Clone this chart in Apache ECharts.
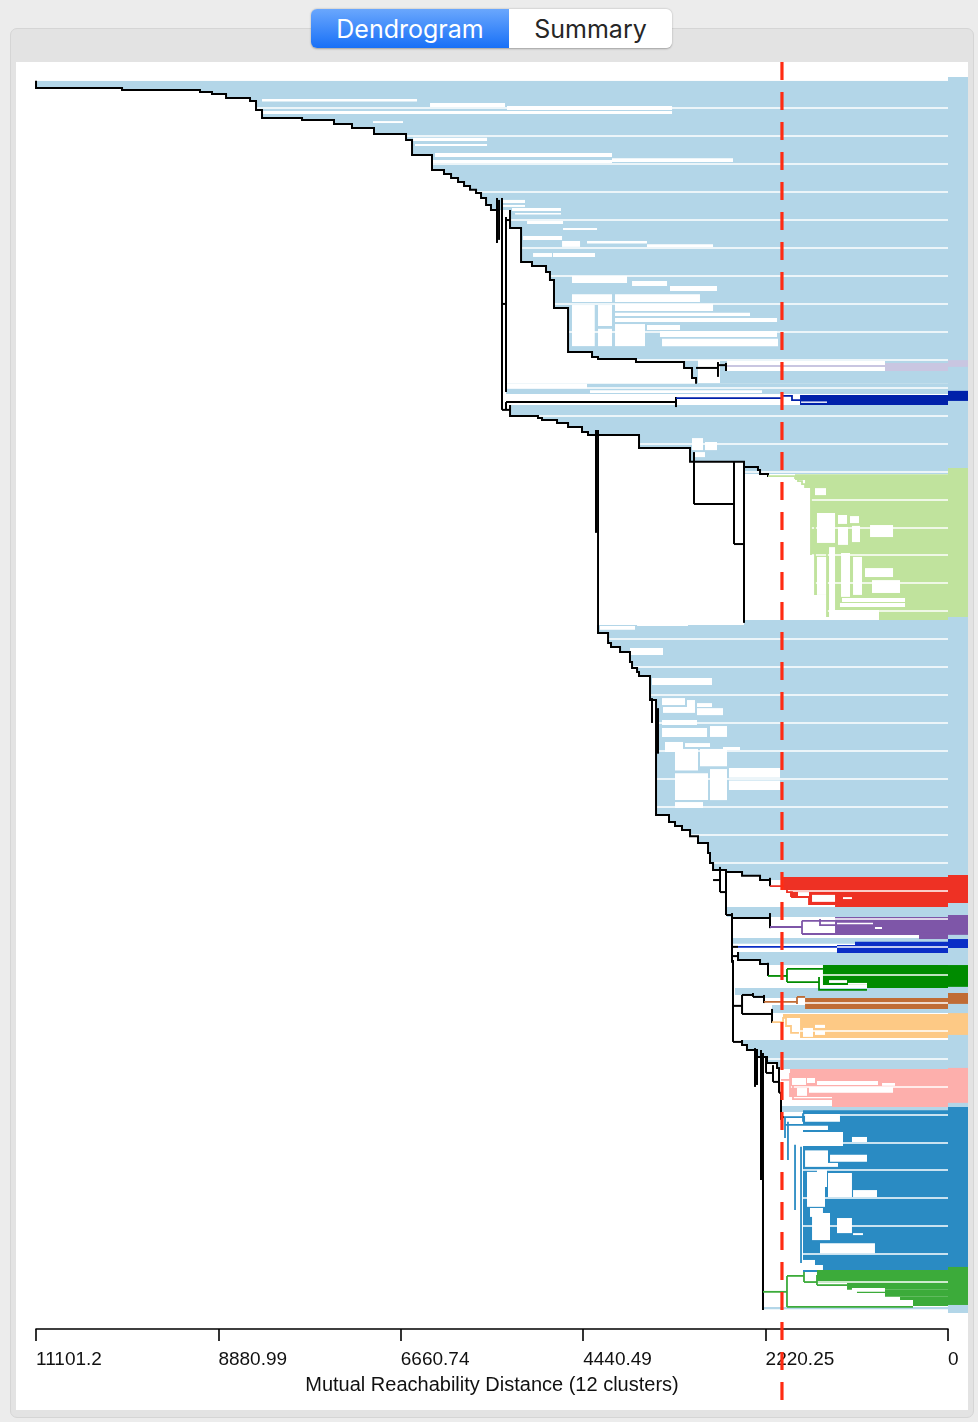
<!DOCTYPE html>
<html><head><meta charset="utf-8">
<script src="https://cdn.jsdelivr.net/npm/echarts@6/dist/echarts.min.js"></script>
<style>
html,body{margin:0;padding:0;background:#ececec;width:978px;height:1422px;overflow:hidden;font-family:"Liberation Sans",Arial,sans-serif;}
#panel{position:absolute;left:10px;top:28px;width:964px;height:1390px;background:#e3e3e3;border:1px solid #d5d5d5;border-radius:7px;box-sizing:border-box;}
#paper{position:absolute;left:16px;top:62px;width:952px;height:1348px;background:#fff;}
#seg{position:absolute;left:311px;top:9px;width:361px;height:39px;border-radius:6px;box-shadow:0 0.5px 2px rgba(0,0,0,0.3);display:flex;overflow:hidden;font-family:Inter,"Open Sans",sans-serif;font-size:25px;}
#seg .on{width:198px;background:linear-gradient(#6aa7fd,#1870f7);color:#fff;display:flex;align-items:center;justify-content:center;}
#seg .off{flex:1;background:#fff;color:#262626;display:flex;align-items:center;justify-content:center;}
#chart{position:absolute;left:0;top:0;width:978px;height:1422px;}
</style></head>
<body>
<div id="panel"></div>
<div id="paper"></div>
<div id="seg"><div class="on">Dendrogram</div><div class="off">Summary</div></div>
<div id="chart"></div>
<script>
// ---------- data (distance, leaf position) ----------
const MAXD = 11101.25, STEP = 2220.25;
const tickLabels = ['0', '2220.25', '4440.49', '6660.74', '8880.99', '11101.2'];
const axisTitle = 'Mutual Reachability Distance (12 clusters)';
const cutDistance = 2021;
const leafCount = 440;
const lightBlue = '#b3d6e8';
const clusterNames = ['lavender', 'navy', 'light green', 'red', 'purple', 'blue', 'green', 'brown', 'orange', 'pink', 'steel blue', 'green 2'];
const clusterColors = ['#c9c6e1', '#0021aa', '#c0e39d', '#ee3124', '#7e56a8', '#0a2ec6', '#008b00', '#c06c35', '#fdc985', '#fdafac', '#2a8bc3', '#3cab3a'];

// main staircase branches (black), leaves above-right of them are light blue
const chainA = [[11101,0.3],[11101,2.9],[10054,2.9],[10054,3.6],[9105,3.6],[9105,4.3],[8959,4.3],[8959,5.0],[8788,5.0],[8788,6.4],[8496,6.4],[8496,7.5],[8423,7.5],[8423,10.7],[8350,10.7],[8350,13.6],[7863,13.6],[7863,14.3],[7474,14.3],[7474,15.7],[7255,15.7],[7255,17.2],[6987,17.2],[6987,19.3],[6597,19.3],[6597,21.5],[6524,21.5],[6524,26.8],[6281,26.8],[6281,32.2],[6135,32.2],[6135,33.6],[6049,33.6],[6049,35.1],[5964,35.1],[5964,36.5],[5891,36.5],[5891,37.9],[5818,37.9],[5818,39.3],[5745,39.3],[5745,40.4],[5684,40.4],[5684,42.2],[5623,42.2],[5623,44.7],[5563,44.7],[5563,46.5],[5453,46.5]];
const chainC = [[5331,46.5],[5331,52.9],[5197,52.9],[5197,65.1],[5064,65.1],[5064,66.5],[4893,66.5],[4893,68.7],[4845,68.7],[4845,71.5],[4796,71.5],[4796,81.6],[4625,81.6],[4625,97.3],[4333,97.3],[4333,99.1],[4260,99.1],[4260,99.8],[3798,99.8],[3798,100.9],[3213,100.9],[3213,103.0],[3116,103.0],[3116,106.6],[3067,106.6],[3067,108.7]];
const chainB = [[5331,116.3],[5331,120.2],[4991,120.2],[4991,120.9],[4942,120.9],[4942,121.6],[4759,121.6],[4759,122.7],[4625,122.7],[4625,124.1],[4455,124.1],[4455,125.9],[4382,125.9],[4382,127.0],[3761,127.0],[3761,131.6],[3140,131.6],[3140,136.6],[2483,136.6],[2483,140.9]];
const chainD = [[4260,195.0],[4260,197.8],[4138,197.8],[4138,201.4],[4102,201.4],[4102,202.8],[3992,202.8],[3992,204.6],[3871,204.6],[3871,208.2],[3846,208.2],[3846,210.3],[3785,210.3],[3785,211.8],[3761,211.8],[3761,213.2],[3627,213.2],[3627,221.8],[3554,221.8],[3554,262.9],[3396,262.9],[3396,265.4],[3323,265.4],[3323,266.9],[3238,266.9],[3238,268.3],[3140,268.3],[3140,270.5],[3043,270.5],[3043,272.9],[2921,272.9],[2921,276.5],[2897,276.5],[2897,280.1],[2860,280.1],[2860,282.6],[2702,282.6],[2702,283.3],[2507,283.3],[2507,284.7],[2288,284.7],[2288,286.2],[2167,286.2]];
const chainG = [[2556,311.9],[2556,314.8],[2288,314.8],[2288,316.2],[2191,316.2],[2191,316.6]];
const chainL = [[2507,343.4],[2507,345.2],[2447,345.2],[2447,347.0],[2325,347.0],[2325,349.5],[2203,349.5],[2203,351.6],[2081,351.6],[2081,353.8]];

// light blue leaf groups [from distance, top leaf, bottom leaf] running to 0
const blueBands = [[5380,108.7,112.3],[2483,193.2,195.0],[2690,295.8,299.4],[2617,306.9,309.0],[2593,324.8,327.3],[2374,327.3,328.4],[2142,330.9,333.8],[2021,367.0,369.2],[2252,438.9,440.0]];

// sparse sub-trees inside the light blue mass [left dist, right dist, top, bottom]
const blueHoles = [
 [8350,6463,6.8,7.7],[6305,5392,8.2,9.7],[5368,3359,9.3,10.7],[8350,3359,11.1,12.2],[6999,6634,14.7,15.4],
 [6512,5611,20.7,21.8],[6488,5611,22.9,23.6],[6244,4090,26.1,27.5],[6269,4090,28.6,29.7],[4090,2617,28.0,29.3],
 [5417,5149,42.9,44.0],[5417,5149,44.7,45.4],[5307,4711,45.8,46.9],[5270,4711,47.6,48.1],[5124,4686,50.4,51.5],
 [4686,4272,52.9,53.7],[5173,4698,55.8,57.2],[4698,4479,57.6,59.7],[4394,3664,57.6,58.5],[3664,2860,58.8,59.7],
 [5051,4820,61.9,63.3],[4808,4297,61.9,63.3],[4577,3907,70.1,72.6],[3846,3420,71.9,73.7],[3384,2812,73.7,75.5],
 [4577,4090,76.6,79.4],[4577,4300,80.5,95.2],[4260,4090,80.5,88.0],[4260,4090,89.0,95.2],
 [4053,3019,76.6,79.4],[4053,2860,80.1,82.6],[4053,2410,83.3,84.4],
 [4053,2081,85.1,86.6],[4053,3688,87.3,95.2],[3664,3262,87.6,89.4],[3506,2081,89.8,91.9],[3481,2069,92.6,95.2],
 [3043,2775,100.2,108.4],[2690,767,100.5,104.1],
 [5380,4394,108.7,110.3],[4358,2264,111.0,112.0],
 [3116,2982,128.1,132.4],[2958,2812,129.5,132.4],[3080,2958,133.1,134.9],
 [4236,3810,195.3,196.7],[3785,3165,194.6,195.3],[3871,3469,203.2,205.7],[3603,2873,213.9,216.4],
 [3481,3201,221.1,223.6],[3177,3080,221.8,226.1],[3055,2873,222.9,224.3],[3469,3080,224.3,226.4],[3055,2739,224.7,227.2],
 [3481,3055,228.9,230.7],[2897,2690,231.1,235.0],[3481,2933,231.8,235.0],[3445,3226,236.8,240.4],[3201,2897,237.2,238.6],
 [3323,3043,239.3,247.0],[3019,2690,239.3,245.5],[3323,2921,248.0,257.6],[2897,2690,246.5,257.6],
 [2739,2532,238.6,239.7],[2666,2045,246.1,249.6],[2666,2045,250.6,254.0],[3323,2982,258.3,260.4]
];

// other black links (polylines)
const blackLinks = [
 [[5490,42.2],[5490,58.3]],[[5465,42.9],[5465,57.2]],[[5429,42.2],[5429,118.0]],[[5380,49.0],[5380,111.6]],
 [[5429,80.1],[5380,80.1]],[[5380,50.1],[5331,50.1]],
 [[3067,103.0],[2800,103.0]],[[2800,100.9],[2800,106.2]],[[2800,102.0],[2702,102.0]],[[2702,101.2],[2702,104.1]],
 [[5380,115.2],[3311,115.2]],[[3311,113.4],[3311,117.0]],[[5380,115.2],[5380,118.0]],[[5429,118.0],[5331,118.0]],
 [[4285,125.2],[4285,162.0]],[[4260,125.2],[4260,196.7]],[[3092,133.1],[3092,151.7]],[[3092,151.7],[2605,151.7]],
 [[2605,136.6],[2605,166.0]],[[2605,166.0],[2483,166.0]],[[2483,138.4],[2483,194.2]],
 [[2483,138.4],[2313,138.4],[2313,139.5],[2288,139.5],[2288,140.9],[2191,140.9],[2191,142.0]],
 [[3603,221.1],[3603,230.0]],[[3530,224.7],[3530,241.0]],
 [[2860,286.2],[2775,286.2]],[[2775,281.5],[2775,290.5]],[[2775,290.5],[2702,290.5]],[[2702,283.3],[2702,298.7]],
 [[2167,285.4],[2167,288.4]],
 [[2702,298.7],[2629,298.7]],[[2629,298.0],[2629,315.8]],[[2629,299.8],[2167,299.8]],[[2167,298.0],[2167,303.4]],
 [[2617,310.1],[2556,310.1]],[[2629,313.4],[2556,313.4]],[[2191,315.8],[2191,320.5]],
 [[2617,314.8],[2617,344.1]],[[2617,331.2],[2507,331.2]],[[2507,327.3],[2507,334.1]],[[2507,327.3],[2374,327.3]],
 [[2374,326.6],[2374,328.0]],[[2374,328.0],[2240,328.0]],[[2240,327.3],[2240,330.2]],
 [[2507,334.1],[2142,334.1]],[[2142,332.3],[2142,337.3]],[[2617,344.1],[2507,344.1]],
 [[2349,346.3],[2349,360.2]],[[2325,347.0],[2325,359.5]],[[2276,347.0],[2276,393.5]],[[2252,348.1],[2252,440.0]],
 [[2215,349.5],[2215,355.2]],[[2215,355.2],[2130,355.2]],[[2130,352.4],[2130,358.4]],[[2130,358.4],[2057,358.4]],
 [[2057,353.1],[2057,362.3]],[[2057,362.3],[2033,362.3]],[[2033,362.3],[2033,372.0]],[[2033,371.0],[1996,371.0]]
];

// cluster blocks [cluster, left dist, right dist, top, bottom]
const clusterFills = [
 [0,767,0,101.2,104.1],
 [1,1801,0,112.7,116.3],
 [2,1862,0,141.0,143.1],[2,1740,0,143.1,145.6],[2,1668,0,145.6,169.9],[2,1619,0,169.9,184.2],[2,1473,0,184.2,192.1],[2,840,0,192.1,193.2],
 [3,2008,0,285.1,289.8],[3,1923,0,289.8,292.3],[3,1692,0,292.3,294.8],[3,1375,0,294.8,295.8],
 [4,1375,0,299.4,305.1],[4,353,0,305.1,307.3],
 [5,1132,0,308.3,309.4],[5,1351,0,309.4,312.3],
 [6,1522,0,316.6,323.7],[6,986,0,323.7,324.8],
 [7,1740,0,328.4,332.3],
 [8,2008,0,334.1,335.5],[8,1801,0,335.5,342.7],
 [9,1923,0,353.8,363.8],[9,1412,0,363.8,367.4],
 [10,1765,0,368.5,426.4],
 [11,1595,0,425.7,430.3],[11,1229,0,430.3,432.8],[11,1108,0,432.8,433.9],[11,767,0,433.9,435.3],[11,584,0,435.3,436.4],[11,426,0,436.4,438.6]
];
const clusterHoles = [
 [1789,1473,115.0,115.5],
 [1619,1485,146.0,148.5],[1595,1375,154.9,165.6],[1339,1229,155.6,158.8],[1339,1217,159.9,166.3],[1193,1083,156.0,158.5],
 [1169,1071,159.5,165.3],[949,669,159.2,163.5],[1595,1473,170.6,184.2],[1448,1375,167.1,189.6],[1302,1193,169.2,184.9],
 [1156,1047,170.6,184.2],[1010,669,174.6,177.8],[925,584,178.9,183.5],[1290,523,185.3,186.7],[1315,523,187.1,188.5],[1448,840,189.6,192.1],
 [1826,1692,290.5,291.9],[1655,1375,291.5,294.0],[1278,1169,292.3,293.0],
 [1351,913,301.5,302.6],[889,803,303.0,303.7],
 [1448,1229,322.0,323.0],[1217,986,323.0,323.7],
 [1765,1643,339.1,342.3],[1619,1497,338.0,339.1],[1619,1497,340.2,341.6],
 [1899,1728,357.0,359.5],[1716,1619,357.0,358.8],[1838,1716,360.6,363.4],[1692,669,360.2,362.3],[1595,852,358.1,359.5],[803,645,358.8,359.8],
 [1740,1315,369.9,372.7],[1923,1461,373.8,375.6],[1923,1278,376.3,381.3],[1169,986,378.1,379.9],[1740,1461,382.9,388.8],
 [1436,986,384.5,387.0],[1461,1339,387.4,388.8],[1595,1473,389.9,396.0],[1461,1169,391.0,399.6],[1156,864,397.1,399.6],
 [1716,1497,390.6,403.1],[1680,1522,403.5,406.7],[1655,1436,405.3,415.0],[1351,1169,407.1,412.5],[1156,1035,412.5,413.2],
 [1558,889,416.1,419.7],[1765,1619,422.1,424.6],[1765,1522,423.9,425.7],
 [1169,767,432.1,433.5]
];
// cluster sub-tree lines [cluster, polyline]
const clusterLinks = [
 [0,[[2690,102.3],[767,102.3]]],
 [1,[[3311,113.8],[2021,113.8],[2021,113.0],[1899,113.0],[1899,114.5],[1801,114.5]]],
 [2,[[2191,141.7],[1862,141.7],[1862,142.4],[1826,142.4],[1826,143.5],[1777,143.5],[1777,144.6],[1740,144.6],[1740,145.6],[1668,145.6],[1668,169.9]]],
 [2,[[1619,154.5],[1619,184.2]]],[2,[[1473,166.3],[1473,192.1]]],
 [3,[[2167,288.4],[1960,288.4],[1960,290.5],[1899,290.5],[1899,292.3],[1692,292.3],[1692,294.8],[1375,294.8]]],
 [4,[[2167,303.0],[1777,303.0]]],[4,[[1777,300.8],[1777,305.5]]],[4,[[1777,300.8],[1375,300.8]]],[4,[[1777,305.5],[353,305.5]]],[4,[[1558,300.1],[1558,302.3],[913,302.3]]],
 [5,[[2556,310.1],[1351,310.1]]],
 [6,[[2191,320.5],[1960,320.5]]],[6,[[1960,318.0],[1960,322.7]]],[6,[[1960,318.0],[1522,318.0]]],[6,[[1960,322.7],[1570,322.7]]],[6,[[1570,320.9],[1570,325.5],[986,325.5]]],
 [7,[[2240,329.8],[1838,329.8]]],[7,[[1838,328.0],[1838,330.5]]],[7,[[1838,328.0],[1740,328.0]]],
 [8,[[2142,337.0],[2008,337.0],[2008,335.5],[1972,335.5],[1972,338.4],[1911,338.4],[1911,340.9],[1814,340.9]]],
 [9,[[2033,357.7],[1923,357.7]]],[9,[[1923,355.2],[1923,363.8]]],[9,[[1923,356.3],[1716,356.3]]],[9,[[1887,359.5],[1887,364.6],[1412,364.6]]],
 [10,[[1996,371.0],[1765,371.0]]],[10,[[1765,369.6],[1765,372.7]]],[10,[[1984,371.0],[1984,378.5]]],[10,[[1948,372.7],[1948,386.3]]],
 [10,[[1862,380.9],[1862,404.2]]],[10,[[1789,381.6],[1789,423.2]]],[10,[[1984,373.8],[1461,373.8]]],
 [11,[[2252,433.5],[1960,433.5]]],[11,[[1960,427.8],[1960,438.9]]],[11,[[1960,427.8],[1753,427.8]]],[11,[[1753,426.4],[1753,430.0]]],
 [11,[[1753,430.0],[1595,430.0]]],[11,[[1595,427.5],[1595,431.1]]],[11,[[1595,431.1],[1229,431.1]]],[11,[[1960,438.9],[426,438.9]]]
];
// colour strip beside the leaves [cluster, top leaf, bottom leaf]
const stripExtent = [-1.1, 441.1];
const clusterStrips = [[0,100.2,102.6],[1,111.2,114.8],[2,138.8,192.1],[3,284.4,294.4],[4,298.7,305.8],[5,307.3,310.5],[6,316.6,324.4],[7,326.6,330.5],[8,333.8,341.6],[9,353.4,365.9],[10,367.4,424.6],[11,424.6,438.2]];

// ---------- build ----------
const chains = [chainA, chainC, chainB, chainD, chainG, chainL];
function rectPts(dl, dr, t, b) { return [[dl, t], [dr, t], [dr, b], [dl, b]]; }
function chainPoly(c) { const f = c[0], l = c[c.length - 1]; return c.concat([[0, l[1]], [0, f[1]]]); }

const blueFillShapes = chains.map(c => ({pts: chainPoly(c), color: lightBlue}))
  .concat(blueBands.map(b => ({pts: rectPts(b[0], 0, b[1], b[2]), color: lightBlue})));
const blueHoleShapes = blueHoles.map(h => ({pts: rectPts(h[0], h[1], h[2], h[3]), color: '#ffffff'}));
const clusterFillShapes = clusterFills.map(f => ({pts: rectPts(f[1], f[2], f[3], f[4]), color: clusterColors[f[0]]}));
const clusterHoleShapes = clusterHoles.map(h => ({pts: rectPts(h[0], h[1], h[2], h[3]), color: '#ffffff'}));
const blackShapes = chains.map(c => ({pts: c, color: '#000'})).concat(blackLinks.map(l => ({pts: l, color: '#000'})));
const clusterLineShapes = clusterLinks.map(l => ({pts: l[1], color: clusterColors[l[0]]}));
const stripShapes = [{t: stripExtent[0], b: stripExtent[1], color: lightBlue}].concat(clusterStrips.map(s => ({t: s[1], b: s[2], color: clusterColors[s[0]]})));

function polygonSeries(id, shapes, z) {
  return {type: 'custom', id: id, coordinateSystem: 'cartesian2d', z: z, clip: false, silent: true, animation: false,
    data: shapes.map((s, i) => [0, 0, i]),
    renderItem: function (params, api) {
      const s = shapes[params.dataIndex];
      return {type: 'polygon', shape: {points: s.pts.map(p => api.coord(p))}, style: {fill: s.color, stroke: null}};
    }};
}
function polylineSeries(id, shapes, z, width) {
  return {type: 'custom', id: id, coordinateSystem: 'cartesian2d', z: z, clip: false, silent: true, animation: false,
    data: shapes.map((s, i) => [0, 0, i]),
    renderItem: function (params, api) {
      const s = shapes[params.dataIndex];
      return {type: 'polyline', shape: {points: s.pts.map(p => api.coord(p))}, style: {stroke: s.color, lineWidth: width, fill: null}};
    }};
}
const stripSeries = {type: 'custom', id: 'strip', coordinateSystem: 'cartesian2d', z: 1, clip: false, silent: true, animation: false,
  data: stripShapes.map((s, i) => [0, 0, i]),
  renderItem: function (params, api) {
    const s = stripShapes[params.dataIndex];
    const a = api.coord([0, s.t]), b = api.coord([0, s.b]);
    return {type: 'rect', shape: {x: a[0], y: a[1], width: 20, height: b[1] - a[1]}, style: {fill: s.color}};
  }};
const cutSeries = {type: 'custom', id: 'cut', coordinateSystem: 'cartesian2d', z: 9, clip: false, silent: true, animation: false,
  data: [[cutDistance, 0]],
  renderItem: function (params, api) {
    const x = api.coord([cutDistance, 0])[0];
    const cs = params.coordSys;
    return {type: 'line', shape: {x1: x, y1: cs.y - 18, x2: x, y2: cs.y + cs.height + 90},
      style: {stroke: '#ff2b12', lineWidth: 3.2, lineDash: [18, 12]}};
  }};

const chart = echarts.init(document.getElementById('chart'), null, {renderer: 'canvas'});
chart.setOption({
  animation: false,
  backgroundColor: 'transparent',
  grid: {left: 36, right: 30, top: 80, bottom: 112, containLabel: false, outerBoundsMode: 'none'},
  xAxis: {
    type: 'value', inverse: true, min: 0, max: MAXD, interval: STEP, position: 'bottom', offset: 19, z: 6,
    axisLine: {show: true, onZero: false, lineStyle: {color: '#000', width: 1.6}},
    axisTick: {show: true, length: 12, inside: false, lineStyle: {color: '#000', width: 1.6}},
    axisLabel: {show: true, margin: 21, align: 'left', color: '#111', fontSize: 19, fontFamily: '"Liberation Sans", Arial, sans-serif',
      showMinLabel: true, showMaxLabel: true, hideOverlap: false,
      formatter: function (v) { return tickLabels[Math.round(v / STEP)]; }},
    splitLine: {show: false},
    name: axisTitle, nameLocation: 'middle', nameGap: 46,
    nameTextStyle: {color: '#111', fontSize: 20, fontFamily: '"Liberation Sans", Arial, sans-serif'}
  },
  yAxis: {
    type: 'value', inverse: true, min: 0, max: leafCount, interval: 10, z: 6,
    axisLine: {show: false}, axisTick: {show: false}, axisLabel: {show: false},
    splitLine: {show: true, lineStyle: {color: '#ffffff', width: 1.5}}
  },
  series: [
    stripSeries,
    polygonSeries('blueFill', blueFillShapes, 2),
    polygonSeries('blueHoles', blueHoleShapes, 3),
    polygonSeries('clusterFill', clusterFillShapes, 4),
    polygonSeries('clusterHoles', clusterHoleShapes, 5),
    polylineSeries('black', blackShapes, 7, 2),
    polylineSeries('clusterLines', clusterLineShapes, 8, 1.8),
    cutSeries
  ]
});
</script>
</body></html>
